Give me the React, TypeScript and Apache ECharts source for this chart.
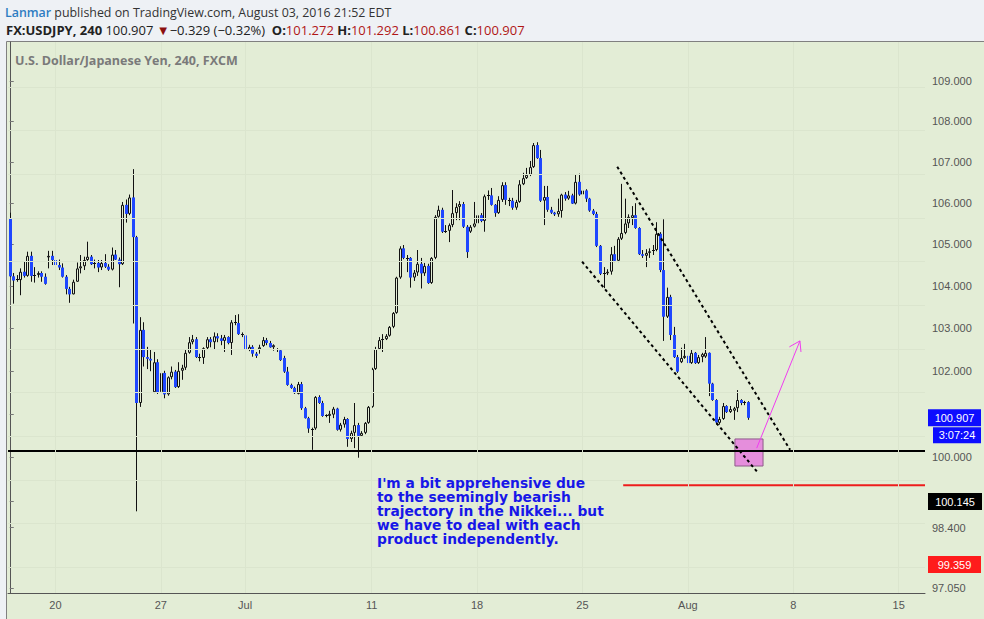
import React, { useEffect, useRef } from 'react';
import * as echarts from 'echarts';

// ---- 4h candles, USD/JPY (FXCM) ----
const opens = [
  105.61, 104.23, 104.13, 104.14, 104.34, 104.24, 104.72, 104.24, 104.26, 104.31,
  104.22, 104.68, 104.72, 104.62, 104.50, 104.44, 104.22, 103.93, 103.80, 104.10,
  104.42, 104.47, 104.62, 104.70, 104.52, 104.55, 104.44, 104.55, 104.46, 104.39,
  104.75, 104.63, 104.52, 105.95, 105.73, 106.13, 105.17, 101.25, 102.96, 102.32,
  102.28, 101.50, 102.20, 101.50, 101.95, 101.45, 101.85, 101.98, 101.62, 102.00,
  102.07, 102.42, 102.67, 102.74, 102.32, 102.30, 102.53, 102.74, 102.67, 102.81,
  102.76, 102.70, 102.79, 102.65, 103.14, 103.12, 102.86, 102.83, 102.49, 102.56,
  102.40, 102.50, 102.58, 102.72, 102.65, 102.55, 102.50, 102.48, 102.30, 101.98,
  101.67, 101.60, 101.46, 101.69, 101.13, 100.90, 100.66, 100.66, 101.39, 101.25,
  100.97, 100.95, 100.98, 101.12, 100.63, 100.75, 100.88, 100.42, 100.56, 100.74,
  100.49, 100.56, 100.79, 101.16, 102.04, 102.51, 102.72, 102.74, 102.82, 103.03,
  103.36, 104.20, 104.90, 104.67, 104.67, 104.20, 104.32, 104.53, 104.30, 104.48,
  104.07, 104.67, 105.66, 105.83, 105.30, 105.32, 105.46, 105.75, 105.90, 105.97,
  105.42, 105.30, 105.42, 105.50, 105.70, 105.56, 106.16, 106.18, 105.95, 105.75,
  106.07, 106.43, 106.07, 106.05, 105.88, 106.02, 106.45, 106.60, 106.68, 106.87,
  107.41, 107.09, 106.05, 106.14, 105.83, 105.76, 105.72, 105.80, 106.20, 106.10,
  106.18, 105.98, 106.51, 106.20, 106.30, 106.10, 105.81, 105.73, 104.96, 104.29,
  104.30, 104.34, 104.76, 104.60, 105.13, 105.27, 105.50, 105.63, 105.70, 105.39,
  104.76, 104.72, 104.79, 104.83, 104.86, 105.25, 104.38, 103.27, 103.74, 102.84,
  102.32, 102.20, 102.30, 102.35, 102.18, 102.42, 102.18, 102.32, 102.33, 102.42,
  101.70, 101.32, 100.79, 100.88, 101.18, 101.04, 101.07, 101.13, 101.32, 101.25,
  101.272,
];
const highs = [
  105.76, 104.31, 104.26, 104.42, 104.58, 104.82, 104.82, 104.45, 104.35, 104.35,
  104.30, 104.84, 104.84, 104.76, 104.63, 104.54, 104.26, 103.98, 104.15, 104.56,
  104.74, 104.70, 105.06, 104.74, 104.63, 104.62, 104.62, 104.76, 104.52, 104.92,
  104.86, 104.68, 106.02, 106.08, 106.20, 106.82, 105.20, 103.26, 103.14, 102.56,
  102.50, 102.44, 102.27, 102.02, 102.00, 101.87, 102.10, 102.02, 102.20, 102.14,
  102.49, 102.79, 102.84, 102.79, 102.40, 102.55, 102.79, 102.79, 102.90, 102.88,
  102.84, 102.84, 102.81, 103.19, 103.31, 103.33, 102.90, 102.88, 102.61, 102.60,
  102.44, 102.61, 102.79, 102.77, 102.70, 102.62, 102.53, 102.51, 102.35, 102.09,
  101.70, 101.63, 101.74, 101.74, 101.16, 100.93, 100.68, 101.41, 101.43, 101.30,
  100.99, 101.07, 101.16, 101.14, 100.79, 100.93, 100.90, 100.61, 101.25, 100.79,
  100.60, 100.81, 101.18, 102.07, 102.56, 102.79, 102.86, 102.86, 103.05, 103.38,
  104.22, 104.95, 104.98, 104.74, 104.69, 104.38, 104.86, 104.67, 104.55, 104.53,
  104.69, 105.70, 105.93, 105.88, 105.46, 105.50, 106.31, 105.99, 106.04, 106.02,
  105.46, 105.46, 106.02, 105.83, 105.75, 106.20, 106.30, 106.36, 105.97, 106.16,
  106.50, 106.50, 106.12, 106.12, 106.07, 106.55, 106.73, 106.85, 107.02, 107.46,
  107.48, 107.29, 106.41, 106.41, 105.90, 105.78, 106.10, 106.22, 106.26, 106.29,
  106.22, 106.68, 106.71, 106.35, 106.33, 106.12, 105.85, 105.78, 104.98, 104.45,
  104.40, 104.93, 104.96, 105.17, 106.46, 106.10, 105.72, 105.92, 105.99, 105.41,
  104.86, 104.88, 104.90, 104.98, 105.53, 105.29, 105.60, 103.96, 103.79, 103.03,
  102.37, 102.54, 102.63, 102.58, 102.49, 102.44, 102.37, 102.42, 102.79, 102.43,
  101.72, 101.34, 100.93, 101.25, 101.20, 101.18, 101.16, 101.55, 101.34, 101.30,
  101.292,
];
const lows = [
  104.21, 103.58, 104.10, 103.78, 104.20, 104.22, 104.10, 104.08, 104.20, 104.10,
  104.03, 104.42, 104.50, 104.47, 104.38, 104.20, 103.80, 103.60, 103.80, 104.10,
  104.30, 104.38, 104.60, 104.50, 104.42, 104.33, 104.38, 104.43, 104.36, 104.37,
  104.62, 103.97, 104.50, 105.52, 105.70, 103.11, 98.77, 101.16, 102.10, 102.04,
  101.99, 101.48, 101.46, 101.45, 101.36, 101.42, 101.80, 101.60, 101.60, 101.79,
  102.02, 102.40, 102.62, 102.30, 102.22, 102.16, 102.50, 102.55, 102.50, 102.67,
  102.60, 102.44, 102.62, 102.37, 103.07, 102.84, 102.79, 102.46, 102.46, 102.33,
  102.30, 102.40, 102.56, 102.60, 102.54, 102.47, 102.44, 102.23, 101.95, 101.65,
  101.58, 101.46, 101.45, 101.09, 100.89, 100.56, 100.17, 100.63, 101.23, 100.93,
  100.92, 100.79, 100.90, 100.61, 100.59, 100.68, 100.24, 100.35, 100.21, 99.99,
  100.47, 100.53, 100.77, 101.14, 102.02, 102.49, 102.44, 102.72, 102.80, 103.00,
  103.34, 104.17, 104.64, 104.33, 103.96, 104.12, 104.24, 103.94, 104.24, 104.05,
  104.05, 104.64, 105.64, 105.27, 105.27, 105.05, 105.41, 105.58, 105.58, 105.39,
  104.67, 105.27, 105.40, 105.46, 105.53, 105.30, 106.07, 105.93, 105.66, 105.73,
  106.02, 105.95, 105.92, 105.83, 105.83, 106.00, 106.43, 106.58, 106.65, 106.85,
  107.07, 106.02, 105.46, 105.78, 105.73, 105.68, 105.66, 105.64, 106.05, 106.07,
  105.97, 105.96, 106.17, 106.17, 106.02, 105.78, 105.70, 104.93, 104.26, 103.95,
  104.26, 104.27, 104.57, 104.57, 105.10, 105.24, 105.39, 105.46, 105.37, 104.74,
  104.67, 104.45, 104.67, 104.74, 104.83, 104.33, 102.70, 103.24, 102.72, 102.30,
  101.95, 102.18, 102.28, 102.16, 102.16, 102.16, 102.16, 102.20, 102.30, 101.41,
  101.30, 100.75, 100.75, 100.86, 101.02, 101.02, 100.86, 101.04, 101.20, 101.20,
  100.861,
];
const closes = [
  104.23, 104.13, 104.16, 104.34, 104.24, 104.72, 104.24, 104.26, 104.31, 104.22,
  104.05, 104.72, 104.62, 104.50, 104.44, 104.22, 103.93, 103.80, 104.10, 104.42,
  104.47, 104.62, 104.70, 104.52, 104.55, 104.44, 104.55, 104.46, 104.39, 104.75,
  104.63, 104.52, 105.95, 105.73, 106.13, 105.17, 101.25, 102.96, 102.32, 102.28,
  102.24, 102.20, 101.50, 101.95, 101.45, 101.85, 101.98, 101.62, 102.00, 102.07,
  102.42, 102.67, 102.74, 102.32, 102.30, 102.53, 102.74, 102.67, 102.81, 102.76,
  102.70, 102.79, 102.65, 103.14, 103.12, 102.86, 102.83, 102.49, 102.56, 102.40,
  102.35, 102.55, 102.72, 102.65, 102.55, 102.60, 102.48, 102.25, 101.98, 101.67,
  101.60, 101.48, 101.69, 101.13, 100.90, 100.66, 100.65, 101.39, 101.25, 100.95,
  100.95, 101.00, 101.12, 100.63, 100.75, 100.88, 100.42, 100.56, 100.74, 100.49,
  100.56, 100.79, 101.16, 102.04, 102.51, 102.72, 102.74, 102.82, 103.03, 103.36,
  104.20, 104.90, 104.67, 104.65, 104.20, 104.32, 104.53, 104.30, 104.48, 104.07,
  104.67, 105.66, 105.83, 105.30, 105.32, 105.46, 105.75, 105.90, 105.97, 105.42,
  104.81, 105.42, 105.50, 105.70, 105.56, 106.16, 106.18, 105.95, 105.75, 106.07,
  106.43, 106.07, 106.05, 105.88, 106.02, 106.45, 106.60, 106.68, 106.87, 107.41,
  107.09, 106.05, 106.14, 105.83, 105.76, 105.72, 105.80, 106.20, 106.10, 106.18,
  105.98, 106.51, 106.20, 106.30, 106.10, 105.81, 105.73, 104.96, 104.29, 104.31,
  104.34, 104.76, 104.60, 105.13, 105.27, 105.50, 105.66, 105.70, 105.39, 104.76,
  104.72, 104.79, 104.83, 104.86, 105.25, 104.38, 103.27, 103.74, 102.84, 102.32,
  101.98, 102.30, 102.35, 102.18, 102.42, 102.18, 102.32, 102.39, 102.42, 101.70,
  101.32, 100.80, 100.88, 101.18, 101.04, 101.11, 101.13, 101.32, 101.25, 101.272,
  100.907,
];

// ---- axes ----
const TOTAL_BARS = 261; // data bars plus empty future bars on the time scale
const FIRST_BAR_UTC = Date.UTC(2016, 5, 15, 21); // Wed 15 Jun 2016 21:00 (ET session clock)
const xTickDays = ['6-20', '6-27', '7-1', '7-11', '7-18', '7-25', '8-1', '8-8', '8-15'];
const xTickLabels = ['20', '27', 'Jul', '11', '18', '25', 'Aug', '8', '15'];
const yTickPrices = [109, 108, 107, 106, 105, 104, 103, 102, 101, 100, 99, 98.4, 97.05];
const yLabelPrices = [109, 108, 107, 106, 105, 104, 103, 102, 100, 99, 98.4, 97.05]; // 101 sits under the last-price tag
const yRangePrices = [96.94, 109.975];

// ---- annotations (bar index, price) ----
const lastPrice = 100.907;
const countdownText = '3:07:24';
const supportLevel = 100.145;
const targetLevel = 99.359;
const targetStartBar = 174.6;
const upperChannel = [[172.9, 106.88], [222.1, 100.17]];
const lowerChannel = [[162.9, 104.58], [212.7, 99.67]];
const zone = [[206.4, 100.42], [214.4, 99.8]];
const arrowShaft = [[212.6, 100.21], [224.9, 102.7]];
const arrowHead = [[221.9, 102.56], [224.9, 102.7], [225.2, 102.44]];
const noteLines = [
  "I'm a bit apprehensive due",
  'to the seemingly bearish',
  'trajectory in the Nikkei... but',
  'we have to deal with each',
  'product independently.',
];

const PANE = '#e3edd6';
const UP_STROKE = '#111111';
const DOWN_FILL = '#1f47ff';
const AXIS_FONT = '"Liberation Sans", Arial, sans-serif';
const UI_FONT = '"Open Sans", "Noto Sans", sans-serif';

const L = Math.log;

function buildCategories(): string[] {
  const out: string[] = [];
  let t = FIRST_BAR_UTC;
  while (out.length < TOTAL_BARS) {
    const d = new Date(t);
    const dow = d.getUTCDay();
    const h = d.getUTCHours();
    const closed = (dow === 5 && h >= 17) || dow === 6 || (dow === 0 && h < 17);
    if (!closed) {
      out.push(`${d.getUTCMonth() + 1}-${d.getUTCDate()} ${String(h).padStart(2, '0')}:00`);
    }
    t += 4 * 3600 * 1000;
  }
  return out;
}

function labelFor(cat: string): string {
  const [day, hour] = cat.split(' ');
  if (hour !== '01:00') return '';
  const k = xTickDays.indexOf(day);
  return k >= 0 ? xTickLabels[k] : '';
}

function renderCandle(params: any, api: any) {
  const idx = api.value(0);
  const o = api.value(1);
  const c = api.value(2);
  const lo = api.value(3);
  const hi = api.value(4);
  const pO = api.coord([idx, o]);
  const yC = api.coord([idx, c])[1];
  const yL = api.coord([idx, lo])[1];
  const yH = api.coord([idx, hi])[1];
  const xs = Math.round(pO[0]);
  const top = Math.min(pO[1], yC);
  const bot = Math.max(pO[1], yC);
  const bh = bot - top;
  const children: any[] = [
    {
      type: 'line',
      shape: { x1: xs + 0.5, y1: yH, x2: xs + 0.5, y2: yL },
      style: { stroke: UP_STROKE, lineWidth: 1 },
    },
  ];
  if (bh < 1.3) {
    children.push({
      type: 'rect',
      shape: { x: xs - 1, y: Math.round(top), width: 3, height: 1 },
      style: { fill: UP_STROKE },
    });
  } else if (c > o) {
    children.push({
      type: 'rect',
      shape: { x: xs - 0.5, y: top + 0.5, width: 2, height: Math.max(bh - 1, 0.5) },
      style: { fill: PANE, stroke: UP_STROKE, lineWidth: 1 },
    });
  } else {
    children.push({
      type: 'rect',
      shape: { x: xs - 1, y: top, width: 3, height: bh },
      style: { fill: DOWN_FILL },
    });
  }
  return { type: 'group', children };
}

function lineSeries(name: string, pts: number[][], color: string, width: number, type: any, z: number) {
  return {
    type: 'line',
    name,
    xAxisIndex: 1,
    yAxisIndex: 0,
    data: pts.map(([x, p]) => [x, L(p)]),
    symbol: 'none',
    silent: true,
    z,
    lineStyle: { color, width, type },
    emphasis: { disabled: true },
  };
}

export default function App() {
  const ref = useRef<HTMLDivElement>(null);

  useEffect(() => {
    if (!ref.current) return;
    const chart = echarts.init(ref.current, undefined, { renderer: 'svg' });
    const categories = buildCategories();
    const labelBars: number[] = [];
    categories.forEach((c, i) => {
      if (labelFor(c) !== '') labelBars.push(i);
    });
    const yTickValues = yTickPrices.map(L);
    const yLabelValues = yLabelPrices.map(L);
    const candleData = opens.map((o, i) => [i, L(o), L(closes[i]), L(lows[i]), L(highs[i])]);

    const option: any = {
      animation: false,
      backgroundColor: '#eef1f5',
      grid: { left: 8, top: 42, width: 917, height: 551, containLabel: false },
      xAxis: [
        {
          type: 'category',
          data: categories,
          boundaryGap: true,
          axisLine: { show: true, lineStyle: { color: '#555', width: 1 } },
          axisTick: { show: false },
          axisLabel: {
            interval: (i: number, v: string) => labelFor(v) !== '',
            formatter: (v: string) => labelFor(v),
            color: '#555',
            fontSize: 11,
            fontFamily: AXIS_FONT,
            margin: 6,
          },
          splitLine: { show: false },
        },
        { type: 'value', min: -0.5, max: TOTAL_BARS - 0.5, show: false },
      ],
      yAxis: {
        type: 'value',
        position: 'right',
        min: L(yRangePrices[0]),
        max: L(yRangePrices[1]),
        axisLine: { show: true, lineStyle: { color: '#555', width: 1 } },
        axisTick: { show: true, length: 4, customValues: yTickValues, lineStyle: { color: '#777' } },
        axisLabel: {
          customValues: yLabelValues,
          formatter: (v: number) => Math.exp(v).toFixed(3),
          color: '#555',
          fontSize: 11,
          fontFamily: AXIS_FONT,
          margin: 7,
        },
        splitLine: { show: false },
      },
      series: [
        {
          type: 'line',
          name: 'grid',
          xAxisIndex: 1,
          yAxisIndex: 0,
          data: [],
          z: 1,
          silent: true,
          markLine: {
            silent: true,
            symbol: 'none',
            animation: false,
            label: { show: false },
            lineStyle: { color: '#dbe5ce', width: 1, type: 'solid' },
            emphasis: { disabled: true },
            data: [
              ...yTickPrices.map((p) => ({ yAxis: L(p) })),
              ...labelBars.map((i) => ({ xAxis: i })),
            ],
          },
        },
        {
          type: 'custom',
          name: 'zone',
          xAxisIndex: 1,
          yAxisIndex: 0,
          z: 2,
          silent: true,
          encode: { x: [0, 2], y: [1, 3] },
          data: [[zone[0][0], L(zone[0][1]), zone[1][0], L(zone[1][1])]],
          renderItem: (params: any, api: any) => {
            const p1 = api.coord([api.value(0), api.value(1)]);
            const p2 = api.coord([api.value(2), api.value(3)]);
            return {
              type: 'rect',
              shape: { x: p1[0], y: p1[1], width: p2[0] - p1[0], height: p2[1] - p1[1] },
              style: { fill: '#e58edc', stroke: '#8e5d8a', lineWidth: 1 },
            };
          },
        },
        {
          type: 'custom',
          name: 'USDJPY',
          xAxisIndex: 0,
          yAxisIndex: 0,
          z: 3,
          silent: true,
          dimensions: ['i', 'open', 'close', 'low', 'high'],
          encode: { x: 0, y: [1, 2, 3, 4] },
          data: candleData,
          renderItem: renderCandle,
        },
        lineSeries('support', [[-0.5, supportLevel], [TOTAL_BARS - 0.5, supportLevel]], '#000000', 2, 'solid', 4),
        lineSeries('target', [[targetStartBar, targetLevel], [TOTAL_BARS - 0.5, targetLevel]], '#ee1c1c', 2, 'solid', 4),
        lineSeries('channelTop', upperChannel, '#000000', 2, [3, 3], 5),
        lineSeries('channelBottom', lowerChannel, '#000000', 2, [3, 3], 5),
        lineSeries('arrowShaft', arrowShaft, '#f03cf0', 1, 'solid', 6),
        lineSeries('arrowHead', arrowHead, '#f03cf0', 1, 'solid', 6),
      ],
    };
    chart.setOption(option);

    const yLast = chart.convertToPixel({ yAxisIndex: 0 }, L(lastPrice)) as number;
    const priceBox = (id: string, x: number, y: number, w: number, h: number, fill: string, text: string) => ({
      type: 'group',
      id,
      z: 100,
      children: [
        { type: 'rect', z: 100, shape: { x, y, width: w, height: h }, style: { fill } },
        {
          type: 'text',
          z: 101,
          x: x + w / 2,
          y: y + h / 2,
          style: {
            text,
            fill: '#ffffff',
            font: `11px ${AXIS_FONT}`,
            align: 'center',
            verticalAlign: 'middle',
          },
        },
      ],
    });

    const noteElements = noteLines.map((line, k) => ({
      type: 'text',
      id: `note${k}`,
      z: 100,
      x: 377,
      y: 483 + k * 14,
      style: {
        text: line,
        fill: '#1717e8',
        font: 'bold 13.8px "DejaVu Sans", Verdana, sans-serif',
        verticalAlign: 'middle',
      },
    }));

    chart.setOption({
      graphic: [
        {
          type: 'rect',
          id: 'pane',
          z: -10,
          shape: { x: 6.5, y: 41.5, width: 990, height: 600 },
          style: { fill: PANE, stroke: '#808080', lineWidth: 1 },
          silent: true,
        },
        {
          type: 'text',
          id: 'head1',
          z: 100,
          x: 5,
          y: 12,
          style: {
            text: '{a|Lanmar}{b| published on TradingView.com, August 03, 2016 21:52 EDT}',
            verticalAlign: 'middle',
            rich: {
              a: { fill: '#2d7cc2', fontSize: 12.4, fontWeight: 600, fontFamily: UI_FONT },
              b: { fill: '#333333', fontSize: 12.4, fontFamily: UI_FONT },
            },
          },
        },
        {
          type: 'text',
          id: 'head2',
          z: 100,
          x: 6,
          y: 30,
          style: {
            text:
              '{k|FX:USDJPY, 240} {n|100.907} {t|▼}{n|\u22120.329 (\u22120.32%)}  {k|O:}{v|101.272} {k|H:}{v|101.292} {k|L:}{v|100.861} {k|C:}{v|100.907}',
            verticalAlign: 'middle',
            rich: {
              k: { fill: '#222222', fontSize: 13, fontWeight: 'bold', fontFamily: UI_FONT },
              n: { fill: '#222222', fontSize: 13, fontFamily: UI_FONT },
              t: { fill: '#8b0f0f', fontSize: 13, fontFamily: UI_FONT },
              v: { fill: '#b01616', fontSize: 13, fontFamily: UI_FONT },
            },
          },
        },
        {
          type: 'text',
          id: 'title',
          z: 100,
          x: 15,
          y: 60,
          style: {
            text: 'U.S. Dollar/Japanese Yen, 240, FXCM',
            fill: '#7a7a7a',
            font: `bold 12.5px ${UI_FONT}`,
            verticalAlign: 'middle',
          },
        },
        ...noteElements,
        priceBox('last', 928, yLast - 8.5, 53, 17, '#0d0dff', lastPrice.toFixed(3)),
        priceBox('count', 933, yLast + 9.5, 48, 16, '#0d0dff', countdownText),
        priceBox('support', 928, 493, 54, 17, '#000000', supportLevel.toFixed(3)),
        priceBox('target', 928, 556, 53, 17, '#ff1c1c', targetLevel.toFixed(3)),
      ],
    });

    return () => chart.dispose();
  }, []);

  return <div ref={ref} style={{ position: 'absolute', left: 0, top: 0, width: 984, height: 619 }} />;
}
